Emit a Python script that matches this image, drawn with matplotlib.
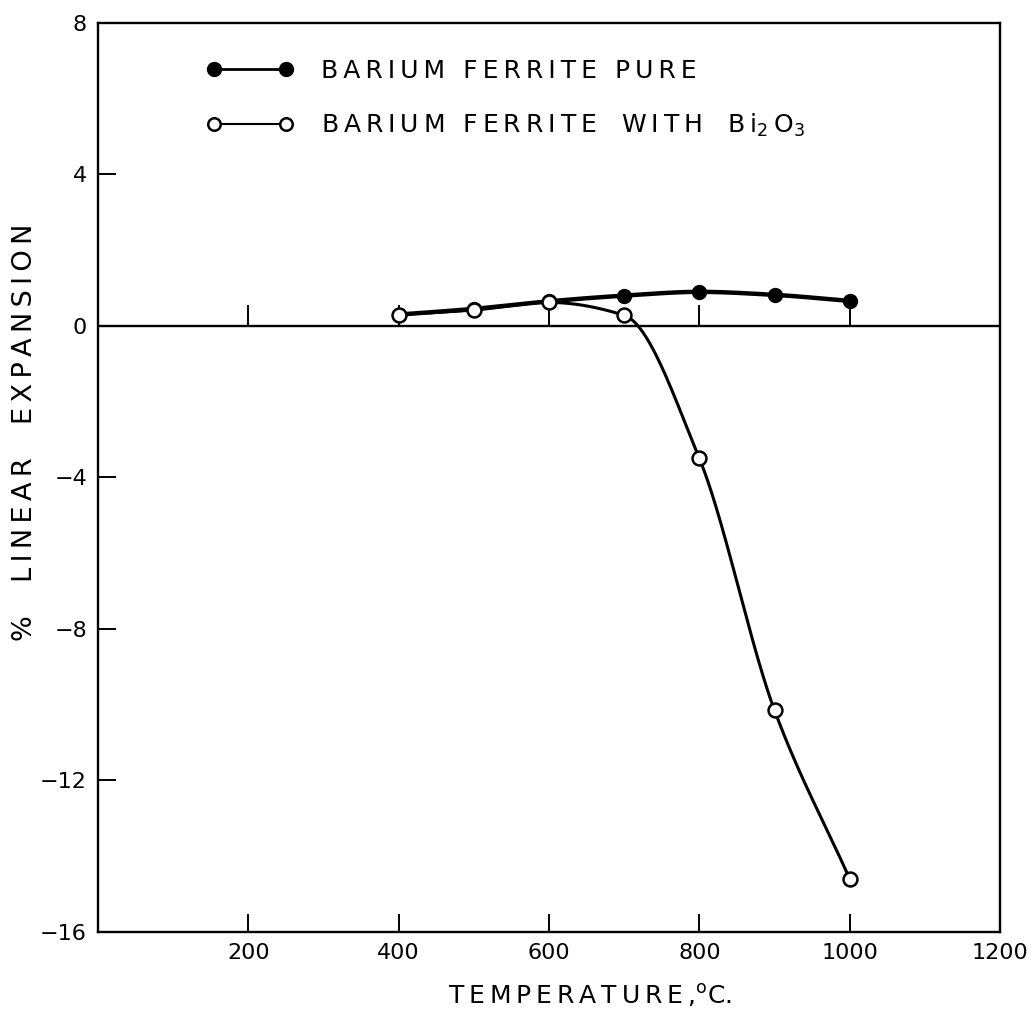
import numpy as np
import matplotlib.pyplot as plt

# data (temperature in C, % linear expansion)
temp = [400, 500, 600, 700, 800, 900, 1000]
pure = [0.3, 0.45, 0.65, 0.8, 0.9, 0.82, 0.66]
bi2o3 = [0.3, 0.42, 0.62, 0.28, -3.5, -10.15, -14.6]

xticks = [200, 400, 600, 800, 1000, 1200]
yticks = [8, 4, 0, -4, -8, -12, -16]
fs = 16


def pchip(x, y, n=400):
    # monotone cubic, only used to draw the smooth curve through the points
    x = np.asarray(x, float); y = np.asarray(y, float)
    h = np.diff(x); d = np.diff(y) / h
    m = np.zeros_like(y)
    for k in range(1, len(x) - 1):
        if d[k-1] * d[k] > 0:
            w1 = 2*h[k] + h[k-1]; w2 = h[k] + 2*h[k-1]
            m[k] = (w1 + w2) / (w1/d[k-1] + w2/d[k])
    m[0] = d[0]; m[-1] = d[-1]
    xs = np.linspace(x[0], x[-1], n)
    i = np.clip(np.searchsorted(x, xs) - 1, 0, len(h) - 1)
    t = (xs - x[i]) / h[i]
    h00 = 2*t**3 - 3*t**2 + 1; h10 = t**3 - 2*t**2 + t
    h01 = -2*t**3 + 3*t**2; h11 = t**3 - t**2
    return xs, h00*y[i] + h10*h[i]*m[i] + h01*y[i+1] + h11*h[i]*m[i+1]


def spaced(s):
    return '\u2009'.join(s)


fig = plt.figure(figsize=(10.33, 10.23), dpi=100)
ax = fig.add_axes([0.0949, 0.089, 0.8732, 0.8886])
ax.set_xlim(0, 1200)
ax.set_ylim(-16, 8)

for sp in ax.spines.values():
    sp.set_linewidth(1.7)

ax.axhline(0, color='k', lw=1.7)
ax.vlines(xticks[:-1], 0, 0.55, color='k', lw=1.4)

xs, ys = pchip(temp, bi2o3)
ax.plot(xs, ys, 'k', lw=2.2, zorder=3)
xs, ys = pchip(temp, pure)
ax.plot(xs, ys, 'k', lw=3.2, zorder=3)
ax.plot(temp, pure, 'o', color='k', ms=10, zorder=4)
ax.plot(temp, bi2o3, 'o', mfc='white', mec='k', mew=1.8, ms=10, zorder=5)

# legend
h1, = ax.plot([], [], 'k-o', lw=2, ms=10)
h2, = ax.plot([], [], 'k-o', lw=1.5, ms=9, mfc='white', mew=1.8)
ax.legend([h1, h2], [spaced('BARIUM FERRITE PURE'),
                     spaced('BARIUM FERRITE') + '\u2002\u2002' + spaced('WITH')
                     + '\u2002\u2002B\u2009i$_{2}$\u2009O$_{3}$'],
          loc='upper left', bbox_to_anchor=(0.095, 0.985), frameon=False,
          fontsize=18, handlelength=3.5, handletextpad=1.1,
          labelspacing=1.15, numpoints=2)

ax.set_xticks(xticks)
ax.set_xticklabels([str(v) for v in xticks])
ax.xaxis.get_major_ticks()[-1].tick1line.set_visible(False)
ax.set_yticks(yticks)
ax.set_yticklabels([str(v).replace('-', '\u2212') for v in yticks])
ax.tick_params(direction='in', length=13, width=1.4, labelsize=fs, pad=8)

ax.set_xlabel(spaced('TEMPERATURE,') + '$^{\\rm o}$C.', fontsize=18)
ax.xaxis.set_label_coords(0.545, -0.055)
ax.set_ylabel(spaced('%  LINEAR  EXPANSION'), fontsize=19.5)
ax.yaxis.set_label_coords(-0.066, 0.55)

fig.savefig('out.png', dpi=100)
